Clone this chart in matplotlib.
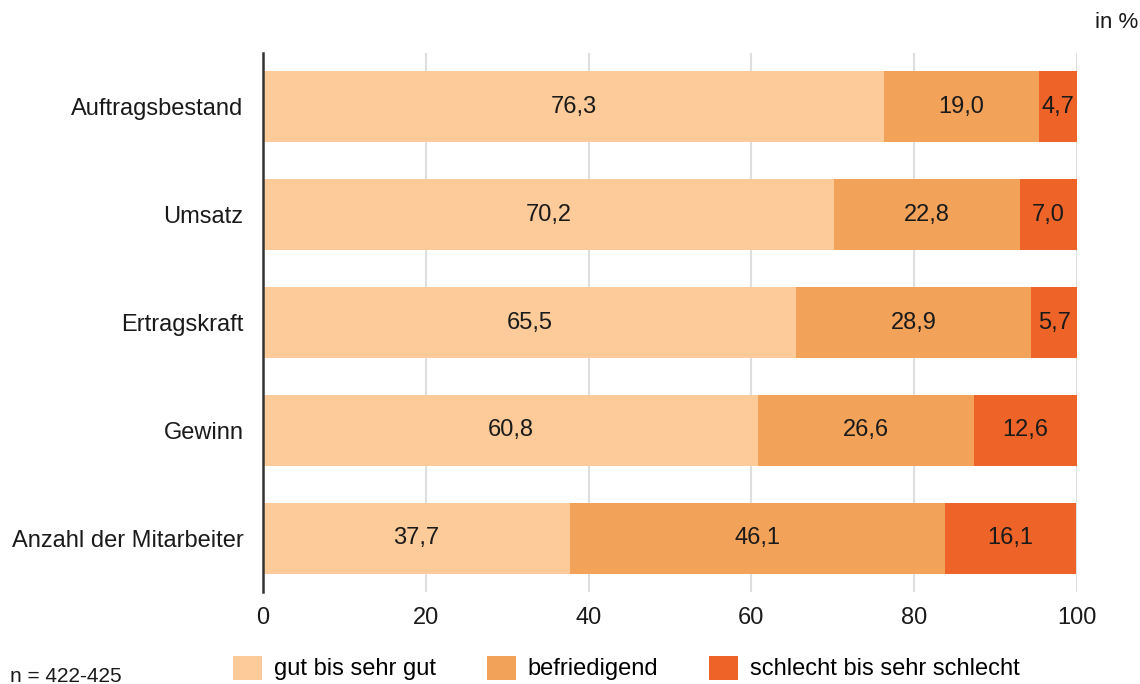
import matplotlib
matplotlib.use("Agg")
import matplotlib.pyplot as plt
from matplotlib.patches import Patch

categories = ["Auftragsbestand", "Umsatz", "Ertragskraft", "Gewinn", "Anzahl der Mitarbeiter"]
gut = [76.3, 70.2, 65.5, 60.8, 37.7]
befriedigend = [19.0, 22.8, 28.9, 26.6, 46.1]
schlecht = [4.7, 7.0, 5.7, 12.6, 16.1]
series_names = ["gut bis sehr gut", "befriedigend", "schlecht bis sehr schlecht"]
colors = ["#FDCA9A", "#F3A25A", "#EE6428"]
xticks = [0, 20, 40, 60, 80, 100]

plt.rcParams["font.family"] = ["Liberation Sans", "DejaVu Sans"]
FS = 17

fig = plt.figure(figsize=(11.4, 6.84), dpi=100)
ax = fig.add_axes([263 / 1140, 1 - 592 / 684, (1077 - 263) / 1140, (592 - 53) / 684])

ypos = list(range(len(categories)))
left = [0.0] * len(categories)
for vals, col in zip([gut, befriedigend, schlecht], colors):
    bars = ax.barh(ypos, vals, left=left, height=0.66, color=col, zorder=3)
    for b, v, l in zip(bars, vals, left):
        ax.text(l + v / 2, b.get_y() + b.get_height() / 2, f"{v:.1f}".replace(".", ","),
                ha="center", va="center", fontsize=FS, color="#1a1a1a", zorder=4)
    left = [a + b for a, b in zip(left, vals)]

ax.set_xlim(0, 100)
ax.set_ylim(len(categories) - 0.5, -0.5)
ax.set_yticks(ypos)
ax.set_yticklabels(categories, fontsize=FS, color="#1a1a1a")
ax.set_xticks(xticks)
ax.set_xticklabels([str(t) for t in xticks], fontsize=FS, color="#1a1a1a")
ax.tick_params(axis="both", length=0)
ax.tick_params(axis="y", pad=14)
ax.tick_params(axis="x", pad=11)
ax.grid(axis="x", color="#dedede", linewidth=1.5, zorder=0)
for s in ["top", "right", "bottom"]:
    ax.spines[s].set_visible(False)
ax.spines["left"].set_color("#333333")
ax.spines["left"].set_linewidth(1.8)
ax.spines["left"].set_zorder(5)

handles = [Patch(facecolor=c, edgecolor="none", label=n) for c, n in zip(colors, series_names)]
fig.legend(handles=handles, loc="center", bbox_to_anchor=(626.5 / 1140, 1 - 668 / 684), ncol=3,
           frameon=False, fontsize=FS, handlelength=1.23, handleheight=1.19,
           handletextpad=0.5, columnspacing=2.15)

fig.text(10 / 1140, 1 - 676 / 684, "n = 422-425", fontsize=15, color="#1a1a1a", va="center")
fig.text(1095 / 1140, 1 - 22 / 684, "in %", fontsize=16, color="#1a1a1a", va="center")

fig.savefig("out.png", dpi=100)
